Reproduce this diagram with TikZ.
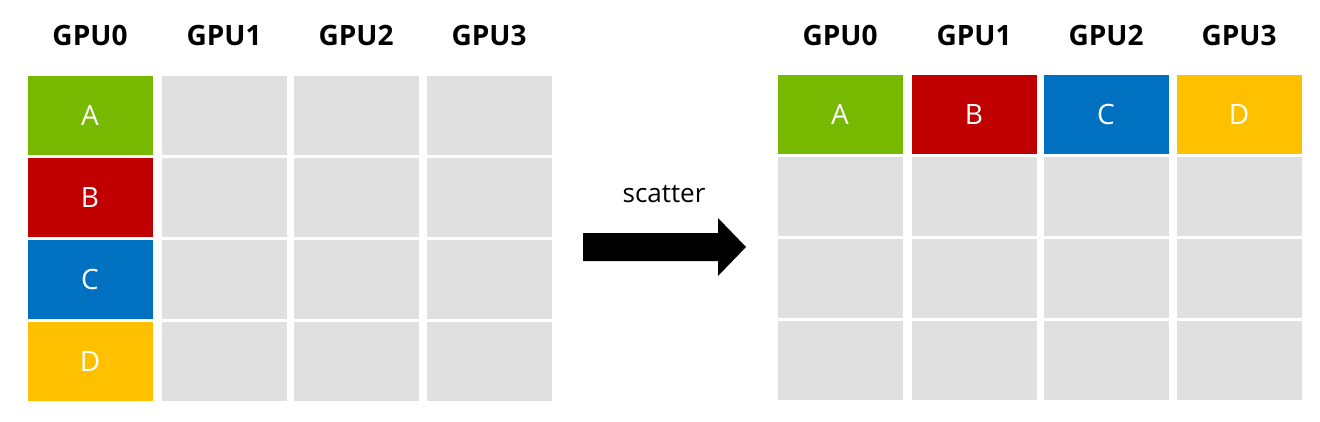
\documentclass[tikz,border=0pt]{standalone}
\usepackage{fontspec}
\setmainfont{Open Sans}
\usepackage{tikz}
\usetikzlibrary{positioning}

\definecolor{gpuverde}{HTML}{76B900}
\definecolor{gpurojo}{HTML}{C00000}
\definecolor{gpuazul}{HTML}{0070C0}
\definecolor{gpuamarillo}{HTML}{FFC000}
\definecolor{gpugris}{HTML}{E0E0E0}

\begin{document}
\begin{tikzpicture}[
    x=1pt, y=1pt,
    celda/.style={minimum width=125pt, minimum height=79pt, inner sep=0pt,
                  font=\fontsize{28}{32}\selectfont, text=white},
    vacia/.style={celda, fill=gpugris},
    gpu/.style={font=\fontsize{28}{32}\selectfont\bfseries},
]
\useasboundingbox (0,0) rectangle (1320,-421);

%% Antes: todo el dato en GPU0
\foreach \c/\x in {0/90, 1/224, 2/356, 3/489} {
    \node[gpu] (lh\c) at (\x,-35) {GPU\c};
}
\node[celda, fill=gpuverde]    at (90,-115.5) (la) {A};
\node[celda, fill=gpurojo]     at (90,-197.5) (lb) {B};
\node[celda, fill=gpuazul]     at (90,-279.5) (lc) {C};
\node[celda, fill=gpuamarillo] at (90,-361.5) (ld) {D};
\foreach \c/\x in {1/224, 2/356, 3/489} {
    \foreach \r/\y in {0/115.5, 1/197.5, 2/279.5, 3/361.5} {
        \node[vacia] (l\c\r) at (\x,-\y) {};
    }
}

%% Flecha
\coordinate (flecha) at (583,-247);
\fill ([yshift=14pt]flecha) -- ++(135,0) -- ++(0,15) -- ++(28,-29)
      -- ++(-28,-29) -- ++(0,15) -- ++(-135,0) -- cycle;
\node[font=\fontsize{26}{30}\selectfont] (sc) at (664,-194) {scatter};

%% Despues: un bloque por GPU
\foreach \c/\x in {0/840, 1/974, 2/1106, 3/1239} {
    \node[gpu] (rh\c) at (\x,-35) {GPU\c};
}
\node[celda, fill=gpuverde]    at (840,-114.5)  (ra) {A};
\node[celda, fill=gpurojo]     at (974,-114.5)  (rb) {B};
\node[celda, fill=gpuazul]     at (1106,-114.5) (rc) {C};
\node[celda, fill=gpuamarillo] at (1239,-114.5) (rd) {D};
\foreach \c/\x in {0/840, 1/974, 2/1106, 3/1239} {
    \foreach \r/\y in {1/196.5, 2/278.5, 3/360.5} {
        \node[vacia] (r\c\r) at (\x,-\y) {};
    }
}
\end{tikzpicture}
\end{document}
